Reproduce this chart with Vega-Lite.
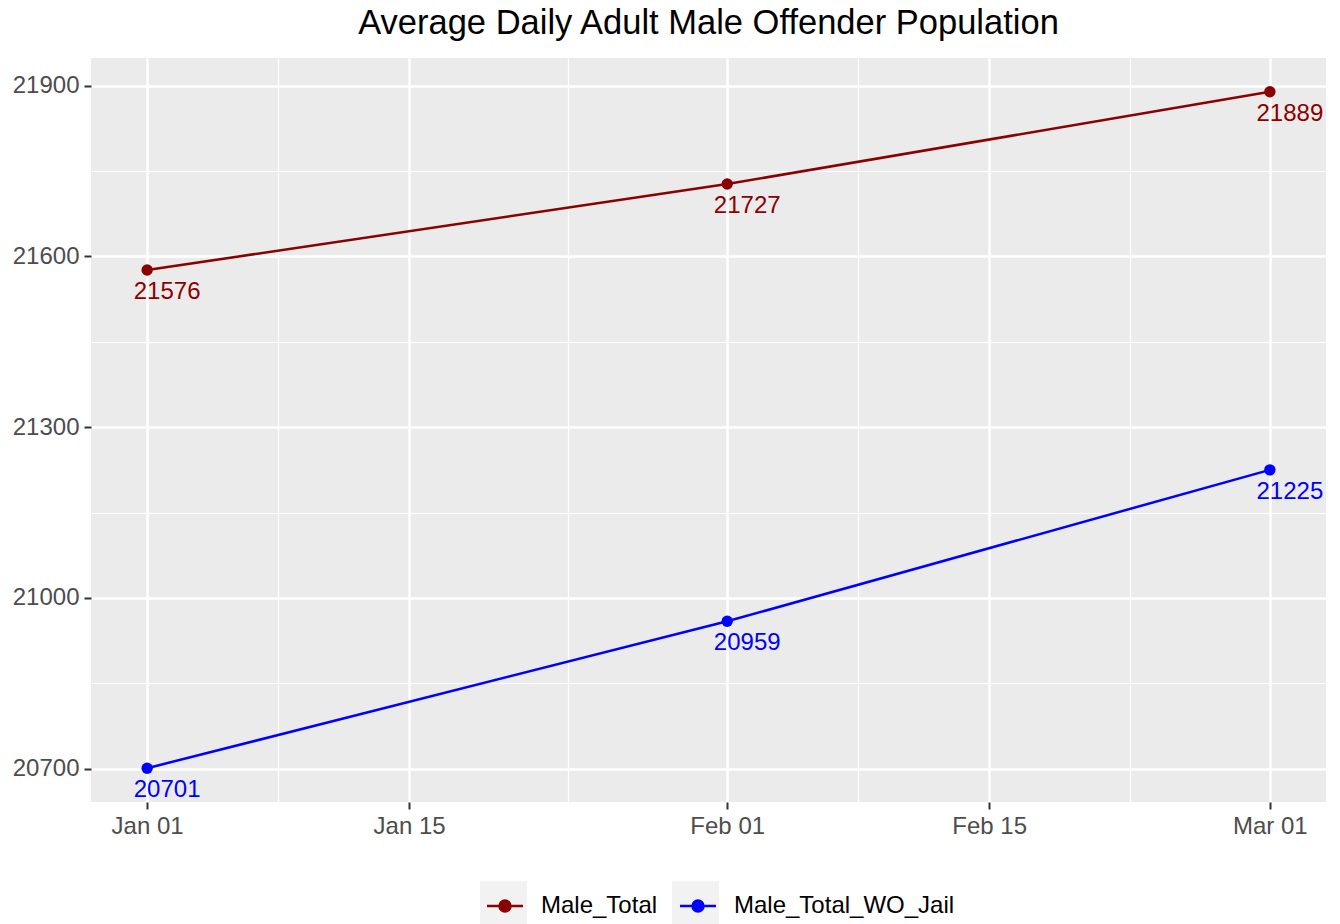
{
  "$schema": "https://vega.github.io/schema/vega-lite/v6.json",
  "autosize": {"type": "none"},
  "width": 1235,
  "height": 744,
  "padding": {"left": 91, "top": 58, "right": 14, "bottom": 122},
  "background": "white",
  "title": {
    "text": "Average Daily Adult Male Offender Population",
    "font": "Liberation Sans",
    "fontSize": 34.5,
    "fontWeight": "normal",
    "color": "#000000",
    "anchor": "middle",
    "baseline": "bottom",
    "offset": 16,
    "dy": 33
  },
  "config": {
    "view": {"fill": "#EBEBEB", "stroke": null},
    "font": "Liberation Sans",
    "axis": {
      "domain": false,
      "gridColor": "#FFFFFF",
      "tickColor": "#333333",
      "tickSize": 7,
      "tickWidth": 2,
      "labelColor": "#4D4D4D",
      "labelFont": "Liberation Sans",
      "labelFontSize": 24,
      "labelPadding": 5,
      "title": null
    }
  },
  "data": {
    "values": [
      {"date": "2024-01-01", "series": "Male_Total", "value": 21576},
      {"date": "2024-02-01", "series": "Male_Total", "value": 21727},
      {"date": "2024-03-01", "series": "Male_Total", "value": 21889},
      {"date": "2024-01-01", "series": "Male_Total_WO_Jail", "value": 20701},
      {"date": "2024-02-01", "series": "Male_Total_WO_Jail", "value": 20959},
      {"date": "2024-03-01", "series": "Male_Total_WO_Jail", "value": 21225}
    ]
  },
  "encoding": {
    "x": {
      "field": "date",
      "type": "temporal",
      "scale": {
        "type": "utc",
        "domain": [
          {"year": 2023, "month": 12, "date": 29, "utc": true},
          {"year": 2024, "month": 3, "date": 4, "utc": true}
        ]
      },
      "axis": {
        "values": [
          {"year": 2024, "month": 1, "date": 1, "utc": true},
          {"year": 2024, "month": 1, "date": 8, "utc": true},
          {"year": 2024, "month": 1, "date": 15, "utc": true},
          {"year": 2024, "month": 1, "date": 23, "hours": 12, "utc": true},
          {"year": 2024, "month": 2, "date": 1, "utc": true},
          {"year": 2024, "month": 2, "date": 8, "utc": true},
          {"year": 2024, "month": 2, "date": 15, "utc": true},
          {"year": 2024, "month": 2, "date": 22, "hours": 12, "utc": true},
          {"year": 2024, "month": 3, "date": 1, "utc": true}
        ],
        "labelExpr": "(utcdate(datum.value) == 1 || utcdate(datum.value) == 15) && utchours(datum.value) == 0 ? utcFormat(datum.value, '%b %d') : ''",
        "gridWidth": {"condition": {"test": "(utcdate(datum.value) == 1 || utcdate(datum.value) == 15) && utchours(datum.value) == 0", "value": 2.5}, "value": 1.2},
        "tickOpacity": {"condition": {"test": "(utcdate(datum.value) == 1 || utcdate(datum.value) == 15) && utchours(datum.value) == 0", "value": 1}, "value": 0},
        "labelFlush": false,
        "labelOverlap": false
      }
    },
    "y": {
      "field": "value",
      "type": "quantitative",
      "scale": {"domain": [20641.6, 21948.4], "nice": false, "zero": false},
      "axis": {
        "values": [20700, 20850, 21000, 21150, 21300, 21450, 21600, 21750, 21900],
        "format": "d",
        "labelExpr": "datum.value % 300 == 0 ? datum.label : ''",
        "gridWidth": {"condition": {"test": "datum.value % 300 == 0", "value": 2.5}, "value": 1.2},
        "tickOpacity": {"condition": {"test": "datum.value % 300 == 0", "value": 1}, "value": 0},
        "labelOverlap": false
      }
    },
    "color": {
      "field": "series",
      "type": "nominal",
      "scale": {"domain": ["Male_Total", "Male_Total_WO_Jail"], "range": ["#8B0000", "#0000FF"]},
      "legend": {
        "title": null,
        "orient": "none",
        "legendX": 389,
        "legendY": 823,
        "zindex": 2,
        "direction": "horizontal",
        "padding": 0,
        "symbolType": "M-0.766,0H0.766M-0.234,0A0.234,0.234,0,1,1,0.234,0A0.234,0.234,0,1,1,-0.234,0Z",
        "symbolSize": 2209,
        "symbolStrokeWidth": 2.5,
        "symbolOpacity": 1,
        "labelFont": "Liberation Sans",
        "labelFontSize": 24,
        "labelColor": "#000000",
        "labelOffset": 11,
        "labelLimit": 400,
        "columnPadding": 15
      }
    }
  },
  "layer": [
    {
      "mark": {"type": "point", "filled": true, "size": 20, "opacity": 1},
      "encoding": {
        "shape": {
          "field": "series",
          "type": "nominal",
          "scale": {"range": ["square", "square"]},
          "legend": {
            "title": null,
            "orient": "none",
            "legendX": 389,
            "legendY": 823,
            "zindex": 1,
            "direction": "horizontal",
            "padding": 0,
            "symbolType": "square",
            "symbolSize": 2209,
            "symbolFillColor": "#F2F2F2",
            "symbolStrokeColor": "#F2F2F2",
            "symbolStrokeWidth": 0,
            "symbolOpacity": 1,
            "labelExpr": "''",
            "labelFontSize": 24,
            "labelOffset": 11,
            "columnPadding": 134
          }
        }
      }
    },
    {"mark": {"type": "line", "strokeWidth": 2.5}},
    {"mark": {"type": "point", "filled": true, "size": 130, "opacity": 1}},
    {
      "mark": {"type": "text", "dx": 20, "dy": 22, "baseline": "middle", "align": "center", "fontSize": 24, "font": "Liberation Sans"},
      "encoding": {"text": {"field": "value", "type": "quantitative", "format": "d"}}
    }
  ]
}
